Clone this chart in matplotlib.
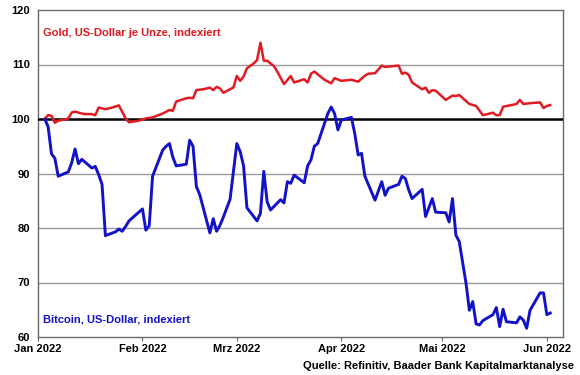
import matplotlib
matplotlib.use("Agg")
import matplotlib.pyplot as plt
import pandas as pd

plt.rcParams['font.family'] = ['Liberation Sans', 'DejaVu Sans']

gold_dates = ["2022-01-03","2022-01-04","2022-01-05","2022-01-06","2022-01-07","2022-01-09","2022-01-10",
    "2022-01-11","2022-01-12","2022-01-14","2022-01-15","2022-01-17","2022-01-18","2022-01-19","2022-01-21",
    "2022-01-23","2022-01-25","2022-01-27","2022-01-28","2022-01-31","2022-02-02","2022-02-04","2022-02-07",
    "2022-02-09","2022-02-10","2022-02-11","2022-02-14","2022-02-15","2022-02-16","2022-02-17","2022-02-19",
    "2022-02-21","2022-02-22","2022-02-23","2022-02-24","2022-02-25","2022-02-28","2022-03-01","2022-03-02",
    "2022-03-03","2022-03-04","2022-03-06","2022-03-07","2022-03-08","2022-03-09","2022-03-10","2022-03-12",
    "2022-03-13","2022-03-15","2022-03-17","2022-03-18","2022-03-21","2022-03-22","2022-03-23","2022-03-24",
    "2022-03-27","2022-03-29","2022-03-30","2022-04-01","2022-04-04","2022-04-06","2022-04-08","2022-04-09",
    "2022-04-11","2022-04-13","2022-04-14","2022-04-18","2022-04-19","2022-04-20","2022-04-21","2022-04-22",
    "2022-04-25","2022-04-26","2022-04-27","2022-04-28","2022-04-29","2022-05-02","2022-05-04","2022-05-05",
    "2022-05-06","2022-05-09","2022-05-11","2022-05-13","2022-05-14","2022-05-16","2022-05-17","2022-05-18",
    "2022-05-19","2022-05-23","2022-05-24","2022-05-25","2022-05-27","2022-05-30","2022-05-31","2022-06-01",
    "2022-06-02"]
gold_values = [100.0,100.7,100.6,99.3,99.7,99.9,100.1,101.2,101.35,101.0,100.9,100.9,100.7,102.1,101.8,
    102.1,102.5,100.1,99.4,99.7,100.1,100.3,101.0,101.65,101.5,103.2,103.8,103.9,103.8,105.3,105.45,
    105.75,105.3,105.9,105.6,104.8,105.8,107.9,107.0,107.8,109.3,110.2,110.8,114.0,110.7,110.7,109.7,
    108.7,106.4,107.9,106.7,107.3,106.7,108.3,108.7,107.2,106.55,107.5,107.0,107.2,106.85,107.95,108.3,
    108.4,109.8,109.55,109.8,108.3,108.5,108.1,106.7,105.45,105.75,104.8,105.3,105.2,103.5,104.3,104.2,
    104.4,102.75,102.4,100.7,100.85,101.15,100.7,100.7,102.25,102.75,103.5,102.75,102.9,103.05,102.0,
    102.4,102.55]

btc_dates = ["2022-01-03","2022-01-04","2022-01-05","2022-01-06","2022-01-07","2022-01-10","2022-01-11",
    "2022-01-12","2022-01-13","2022-01-14","2022-01-17","2022-01-18","2022-01-19","2022-01-20","2022-01-21",
    "2022-01-24","2022-01-25","2022-01-26","2022-01-27","2022-01-28","2022-02-01","2022-02-02","2022-02-03",
    "2022-02-04","2022-02-07","2022-02-08","2022-02-09","2022-02-10","2022-02-11","2022-02-14","2022-02-15",
    "2022-02-16","2022-02-17","2022-02-18","2022-02-21","2022-02-22","2022-02-23","2022-02-24","2022-02-25",
    "2022-02-27","2022-03-01","2022-03-02","2022-03-03","2022-03-04","2022-03-07","2022-03-08","2022-03-09",
    "2022-03-10","2022-03-11","2022-03-14","2022-03-15","2022-03-16","2022-03-17","2022-03-18","2022-03-21",
    "2022-03-22","2022-03-23","2022-03-24","2022-03-25","2022-03-28","2022-03-29","2022-03-30","2022-03-31",
    "2022-04-01","2022-04-04","2022-04-05","2022-04-06","2022-04-07","2022-04-08","2022-04-11","2022-04-12",
    "2022-04-13","2022-04-14","2022-04-15","2022-04-18","2022-04-19","2022-04-20","2022-04-21","2022-04-22",
    "2022-04-25","2022-04-26","2022-04-28","2022-04-29","2022-05-02","2022-05-03","2022-05-04","2022-05-05",
    "2022-05-06","2022-05-08","2022-05-09","2022-05-10","2022-05-11","2022-05-12","2022-05-13","2022-05-16",
    "2022-05-17","2022-05-18","2022-05-19","2022-05-20","2022-05-23","2022-05-24","2022-05-25","2022-05-26",
    "2022-05-27","2022-05-30","2022-05-31","2022-06-01","2022-06-02"]
btc_values = [100.0,98.6,93.6,92.8,89.5,90.3,92.0,94.5,91.8,92.6,91.0,91.3,89.8,88.0,78.6,
    79.3,79.8,79.4,80.3,81.3,83.5,79.6,80.4,89.5,94.3,95.0,95.5,93.0,91.4,91.7,96.1,
    95.0,87.6,86.1,79.1,81.7,79.4,80.5,82.0,85.3,95.5,94.0,91.4,83.7,81.3,82.7,90.4,
    84.8,83.3,85.2,84.6,88.5,88.2,89.7,88.3,91.4,92.5,95.0,95.5,101.0,102.2,101.0,98.0,
    99.8,100.3,97.3,93.4,93.7,89.5,85.1,86.8,88.5,86.0,87.3,88.0,89.5,89.1,87.0,85.4,
    87.1,82.1,85.4,82.9,82.8,81.1,85.4,78.7,77.5,69.9,64.9,66.5,62.4,62.2,63.0,64.1,
    65.4,61.9,65.1,62.8,62.6,63.7,63.1,61.6,64.9,68.1,68.1,64.1,64.4]

y_ticks = [60, 70, 80, 90, 100, 110, 120]
month_ticks = ["2022-01-01","2022-02-01","2022-03-01","2022-04-01","2022-05-01","2022-06-01"]
month_labels = ["Jan 2022","Feb 2022","Mrz 2022","Apr 2022","Mai 2022","Jun 2022"]

gd = pd.to_datetime(gold_dates)
bd = pd.to_datetime(btc_dates)
mt = pd.to_datetime(month_ticks)

RED = '#E01B22'
BLUE = '#1212C8'

fig = plt.figure(figsize=(5.8, 3.75), dpi=100)
ax = fig.add_axes([38/580, 1-337/375, (563-38)/580, (337-10)/375])

for v in y_ticks:
    if v in (60, 120):
        continue
    if v == 100:
        ax.axhline(v, color='black', lw=1.8, zorder=3)
    else:
        ax.axhline(v, color='#9a9a9a', lw=1.0, zorder=1)

ax.plot(gd, gold_values, color=RED, lw=1.8, zorder=4)
ax.plot(bd, btc_values, color=BLUE, lw=2.1, zorder=4)

ax.set_ylim(60, 120)
ax.set_xlim(pd.Timestamp("2022-01-01"), pd.Timestamp("2022-01-01") + pd.Timedelta(days=(563-38)/3.37))
ax.set_yticks(y_ticks)
ax.set_yticklabels([str(v) for v in y_ticks], fontsize=8, fontweight='bold')
ax.set_xticks(mt)
ax.set_xticklabels(month_labels, fontsize=8, fontweight='bold')
ax.tick_params(axis='y', length=0, pad=6)
ax.tick_params(axis='x', length=3, color='#666666', pad=2)
for s in ax.spines.values():
    s.set_color('#6a6a6a')
    s.set_linewidth(1.0)

ax.text(0.01, 0.93, "Gold, US-Dollar je Unze, indexiert", transform=ax.transAxes,
        color=RED, fontsize=8, fontweight='bold', va='center', ha='left')
ax.text(0.01, 0.052, "Bitcoin, US-Dollar, indexiert", transform=ax.transAxes,
        color=BLUE, fontsize=8, fontweight='bold', va='center', ha='left')
fig.text(574/580, 1-366/375, "Quelle: Refinitiv, Baader Bank Kapitalmarktanalyse",
         ha='right', va='center', fontsize=8, fontweight='bold')

fig.savefig("out.png", dpi=100)
